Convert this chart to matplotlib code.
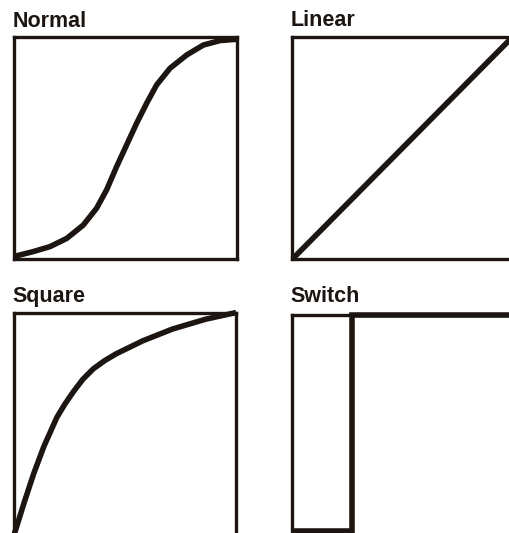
import matplotlib
matplotlib.use("Agg")
import matplotlib.pyplot as plt
from matplotlib.transforms import offset_copy

plt.rcParams["font.family"] = ["Liberation Sans", "DejaVu Sans"]

INK = "#1c1512"

# curve shapes (fraction of box width / height)
NORMAL_X = [0.0, 0.083, 0.160, 0.235, 0.309, 0.369, 0.414, 0.459, 0.504,
            0.549, 0.594, 0.639, 0.699, 0.774, 0.849, 0.924, 1.0]
NORMAL_Y = [0.012, 0.033, 0.056, 0.093, 0.153, 0.229, 0.312, 0.417, 0.515,
            0.613, 0.703, 0.786, 0.861, 0.921, 0.966, 0.986, 0.992]

LINEAR_X = [0.0, 1.0]
LINEAR_Y = [0.0, 1.0]

SQUARE_X = [0.0, 0.045, 0.089, 0.134, 0.193, 0.23, 0.268, 0.31, 0.357,
            0.41, 0.461, 0.580, 0.714, 0.863, 1.0]
SQUARE_Y = [0.0, 0.144, 0.277, 0.397, 0.529, 0.59, 0.645, 0.70, 0.747,
            0.785, 0.815, 0.873, 0.926, 0.97, 1.0]

SWITCH_X = [0.0, 0.275, 0.275, 1.0]
SWITCH_Y = [0.02, 0.02, 1.0, 1.0]

TITLES = ["Normal", "Linear", "Square", "Switch"]
CURVES = [(NORMAL_X, NORMAL_Y), (LINEAR_X, LINEAR_Y),
          (SQUARE_X, SQUARE_Y), (SWITCH_X, SWITCH_Y)]

# box rectangles in figure fraction, and title gap above box in pixels
RECTS = [[0.0284, 0.5141, 0.4363, 0.4156],
         [0.5735, 0.5141, 0.4314, 0.4165],
         [0.0275, -0.0038, 0.4353, 0.4174],
         [0.5725, -0.0038, 0.4314, 0.4128]]
TITLE_GAP = [10, 10.5, 11, 13]

fig = plt.figure(figsize=(5.10, 5.33), dpi=100)

for title, (xs, ys), rect, gap in zip(TITLES, CURVES, RECTS, TITLE_GAP):
    ax = fig.add_axes(rect)
    ax.set_xlim(0, 1)
    ax.set_ylim(0, 1)
    ax.set_xticks([])
    ax.set_yticks([])
    for sp in ax.spines.values():
        sp.set_linewidth(2.4)
        sp.set_color(INK)
    ax.plot(xs, ys, color=INK, lw=4.0, clip_on=False,
            solid_joinstyle="miter", solid_capstyle="butt")
    tr = offset_copy(ax.transAxes, fig=fig, x=-2, y=gap, units="dots")
    ax.text(0.0, 1.0, title, transform=tr, ha="left", va="baseline",
            fontsize=15.5, fontweight="bold", color=INK)

fig.savefig("out.png", dpi=100)
